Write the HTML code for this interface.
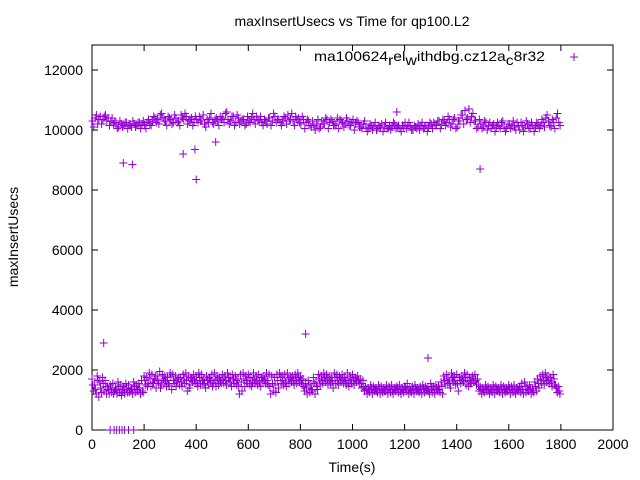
<!DOCTYPE html>
<html><head><meta charset="utf-8"><style>
html,body{margin:0;padding:0;background:#fff}
svg{display:block;font-family:"Liberation Sans",sans-serif}
</style></head><body>
<svg id="chart" width="640" height="480" xmlns="http://www.w3.org/2000/svg">
<text x="352" y="26" font-size="14" text-anchor="middle">maxInsertUsecs vs Time for qp100.L2</text>
<text transform="translate(18,237) rotate(-90)" font-size="14" text-anchor="middle">maxInsertUsecs</text>
<text x="352" y="472" font-size="14" text-anchor="middle">Time(s)</text>
<g id="axes"></g>
<g id="marks"></g>
<g>
<text x="314" y="61" font-size="14" textLength="231" lengthAdjust="spacingAndGlyphs">ma100624<tspan dy="4">r</tspan><tspan dy="-4">el</tspan><tspan dy="4">w</tspan><tspan dy="-4">ithdbg.cz12a</tspan><tspan dy="4">c</tspan><tspan dy="-4">8r32</tspan></text>
<path d="M570,57h8M574,53v8" stroke="#9400d3" stroke-width="1"/>
</g>
</svg>
<script>
const xTicks=[0,200,400,600,800,1000,1200,1400,1600,1800,2000];
const yTicks=[0,2000,4000,6000,8000,10000,12000];
const step=10;
const highVals=[10300,10400,10200,10450,10350,10500,10400,10300,10200,10250,10100,10200,10150,10250,10200,10100,10200,10150,10250,10200,
10150,10250,10200,10300,10400,10350,10500,10400,10300,10450,10350,10250,10400,10300,10500,10350,10450,10300,10400,10250,10350,10450,10300,10200,10350,10400,10250,10350,10300,10450,
10400,10550,10350,10300,10450,10250,10400,10300,10350,10200,10300,10400,10350,10450,10300,10250,10350,10200,10400,10300,10450,10350,10250,10300,10400,10500,10350,10300,10450,10400,
10200,10350,10250,10300,10100,10150,10200,10050,10300,10200,10350,10250,10300,10150,10400,10350,10250,10200,10300,10150,10350,10200,10250,10100,10200,
10100,10050,10150,10100,10000,10150,10200,10100,10050,10150,10100,10200,10100,10050,10150,10250,10150,10100,10000,10100,10200,10150,10050,10150,10100,10200,10250,10150,10300,10200,
10300,10250,10350,10200,10400,10100,10300,10500,10650,10400,10250,10550,10300,10100,
10200,10100,10250,10150,10050,10200,10100,10150,10250,10100,10050,10200,10150,10100,10250,10000,10150,10100,10200,10050,10150,
10100,10200,10150,10250,10400,10300,10100,10250,10400,10250];
const highValsB=[10100,10500,10350,10200,10450,10300,10150,10400,10250,10050,10300,10100,10250,10050,10150,10300,10100,10250,10050,10300,
10050,10350,10150,10450,10250,10200,10550,10300,10150,10400,10200,10500,10250,10150,10400,10550,10200,10350,10150,10450,10250,10300,10500,10100,10250,10550,10200,10400,10150,10350,
10250,10600,10200,10450,10150,10500,10200,10350,10150,10450,10250,10550,10200,10350,10450,10150,10300,10400,10150,10550,10250,10350,10150,10450,10200,10300,10550,10150,10350,10250,
10450,10050,10350,10150,10300,10000,10350,10100,10200,10400,10050,10350,10150,10200,10050,10300,10100,10400,10150,10250,10000,10300,10100,10050,10300,
9950,10200,10000,10250,10050,10100,9950,10250,10050,10000,10250,10050,10150,9950,10100,10050,10250,10000,10150,10050,10000,10250,10100,9950,10250,10050,10150,10300,10050,10350,
10150,10450,10100,10350,10050,10300,10500,10200,10350,10700,10450,10300,10050,10350,
10050,10300,10000,10250,10150,9950,10250,10050,10300,9950,10200,10050,10300,10000,10150,10250,9950,10300,10050,10250,9950,
10250,10050,10350,10100,10500,10150,10350,10050,10550,10150];
const lowUpper=[1700,1500,1800,1600,1750,1650,
1450,1500,1550,1400,1600,1500,1450,1550,1500,1400,1600,1500,1550,1650,
1800,1750,1900,1850,1700,1800,1950,1850,1800,1750,1900,1850,1800,1700,1750,1850,1900,1800,1750,1850,1800,1900,1850,1700,1800,1750,1850,1900,1800,1750,
1850,1800,1900,1750,1850,1800,1700,1850,1900,1800,1850,1750,1900,1800,1850,1750,1800,1900,1850,1800,1750,1850,1900,1800,1850,1900,1750,1800,1850,1900,
1800,1700,1550,1650,1500,1750,1600,1850,1800,1900,1850,1800,1750,1900,1850,1800,1850,1750,1900,1800,1850,1750,1800,1700,1650,
1450,1400,1500,1450,1400,1500,1450,1400,1500,1450,1500,1400,1450,1500,1400,1450,1550,1400,1450,1500,1400,1450,1500,1450,1400,1550,1450,1500,1450,1600,
1800,1850,1700,1900,1800,1850,1750,1800,1900,1850,1750,1800,1850,1700,
1450,1400,1500,1450,1400,1500,1450,1400,1500,1450,1400,1500,1450,1500,1400,1450,1550,1600,1450,1500,1400,
1600,1700,1800,1850,1900,1800,1750,1850,1500,1450];
const lowMid=[1500,1350,1650,1400,1550,1450,
1350,1400,1200,1350,1450,1150,1350,1400,1250,1350,1450,1350,1400,1300,
1650,1450,1700,1550,1800,1650,1400,1700,1650,1550,1800,1650,1450,1750,1600,1700,1650,1400,1700,1650,1600,1750,1650,1550,1650,1700,1450,1650,1700,1600,
1700,1650,1750,1600,1700,1650,1450,1600,1700,1650,1750,1450,1700,1650,1600,1750,1700,1650,1450,1550,1500,1650,1750,1650,1600,1700,1750,1650,1700,1750,
1650,1450,1400,1500,1350,1550,1450,1700,1650,1750,1700,1650,1600,1750,1650,1700,1700,1650,1600,1700,1650,1700,1650,1550,1450,
1350,1300,1400,1350,1300,1400,1350,1300,1350,1400,1300,1350,1400,1300,1350,1400,1350,1300,1350,1400,1300,1350,1400,1350,1300,1400,1350,1400,1350,1450,
1650,1700,1550,1750,1650,1550,1650,1700,1750,1650,1600,1700,1650,1500,
1350,1300,1400,1350,1300,1400,1350,1300,1400,1350,1300,1400,1350,1300,1350,1400,1350,1450,1350,1400,1300,
1450,1550,1650,1700,1750,1650,1600,1700,1400,1300];
const lowLower=[1300,1200,1100,1250,1300,1200,
1200,1250,1300,1200,1250,1300,1200,1250,1300,1200,1250,1300,1200,1250,
1500,1550,1450,1600,1400,1550,1500,1600,1450,1500,1350,1550,1600,1500,1450,1550,1300,1500,1600,1550,1450,1500,1550,1400,1500,1600,1550,1450,1500,1550,
1550,1500,1600,1450,1550,1500,1200,1300,1450,1550,1500,1600,1550,1500,1450,1600,1550,1500,1200,1300,1250,1400,1550,1500,1450,1550,1600,1500,1550,1600,
1500,1300,1200,1250,1300,1200,1350,1500,1550,1600,1500,1550,1400,1550,1500,1600,1550,1500,1450,1550,1500,1600,1550,1400,1300,
1200,1250,1200,1300,1250,1200,1250,1300,1200,1250,1200,1300,1250,1200,1250,1300,1200,1250,1200,1300,1250,1200,1250,1300,1200,1250,1200,1300,1250,1200,
1500,1550,1400,1600,1500,1300,1550,1600,1500,1450,1550,1600,1500,1300,
1200,1250,1300,1200,1250,1200,1300,1250,1200,1250,1300,1200,1250,1200,1300,1250,1200,1250,1300,1200,1250,
1300,1400,1550,1500,1600,1550,1450,1500,1250,1200];
const outTimes=[45,820,1290,120,155,350,395,400,475,1490,1170,70,85,95,105,115,125,140,160];
const outVals=[2900,3200,2400,8900,8850,9200,9350,8350,9600,8700,10600,0,0,0,0,0,0,0,0];

const X0=92,X1=613,Y0=430,Y1=45;
const sx=v=>X0+(v-0)/(2000-0)*(X1-X0);
const sy=v=>Y0-(v-0)/(12000-0)*(430-70);
const NS="http://www.w3.org/2000/svg";
const axes=document.getElementById('axes');
const marks=document.getElementById('marks');
function mk(tag,attrs,parent){const e=document.createElementNS(NS,tag);for(const k in attrs)e.setAttribute(k,attrs[k]);parent.appendChild(e);return e;}
const frame=mk('rect',{x:X0,y:Y1,width:X1-X0,height:Y0-Y1,fill:'none',stroke:'#000','stroke-width':1},axes);


xTicks.forEach(t=>{
 const x=sx(t);
 const tk=mk('path',{d:`M${x},${Y0}v-6M${x},${Y1}v6`,stroke:'#000'},axes);
 
 
 const lb=mk('text',{x:x,y:Y0+19,'font-size':14,'text-anchor':'middle'},axes);
 lb.textContent=t;
 
 
});
yTicks.forEach(t=>{
 const y=sy(t);
 const tk=mk('path',{d:`M${X0},${y}h6M${X1},${y}h-6`,stroke:'#000'},axes);
 
 
 const lb=mk('text',{x:X0-9,y:y+5,'font-size':14,'text-anchor':'end'},axes);
 lb.textContent=t;
 
 
});
let d='';
function add(t,v){const x=sx(t),y=sy(v);d+=`M${(x-4).toFixed(1)},${y.toFixed(1)}h8M${x.toFixed(1)},${(y-4).toFixed(1)}v8`;}
highVals.forEach((v,i)=>add(i*step+2,v));
highValsB.forEach((v,i)=>add(i*step+7,v));
lowUpper.forEach((v,i)=>add(i*step,v));
lowMid.forEach((v,i)=>add(i*step+3,v));
lowLower.forEach((v,i)=>add(i*step+6,v));
outTimes.forEach((t,i)=>add(t,outVals[i]));
const p=mk('path',{d:d,stroke:'#9400d3','stroke-width':1,fill:'none'},marks);


</script>
</body></html>
